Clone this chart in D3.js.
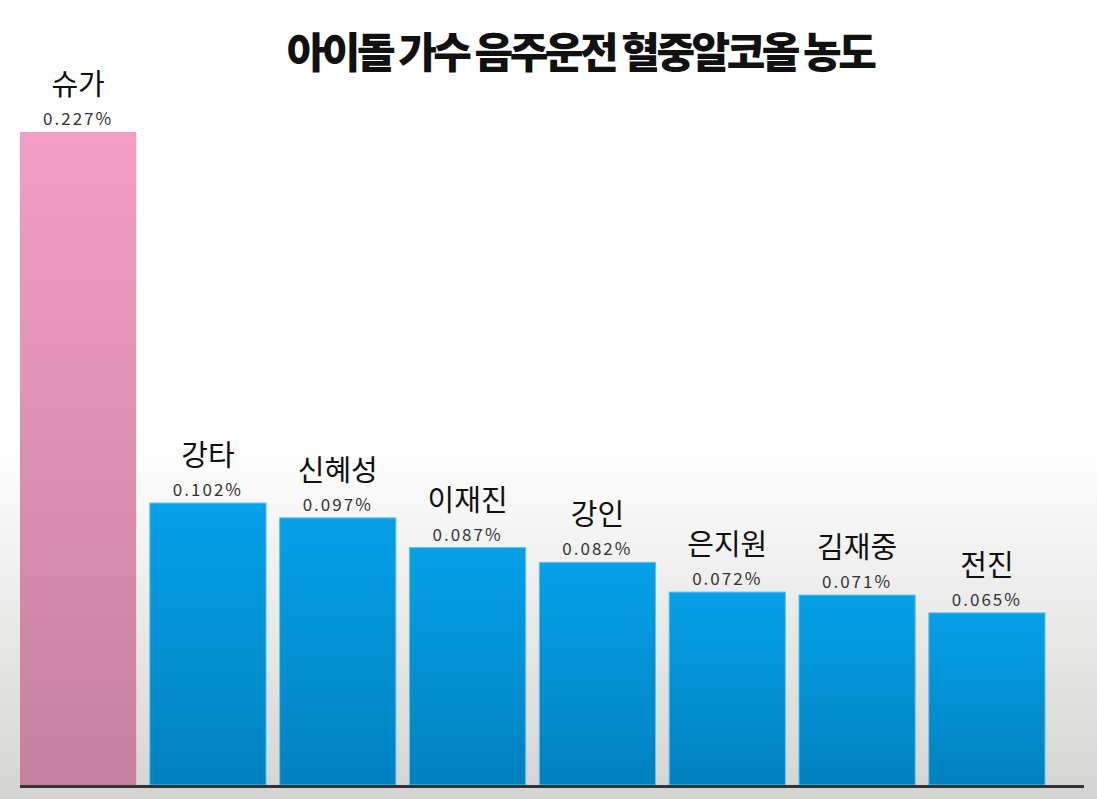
<!doctype html>
<html>
  <head>
    <meta charset="utf-8">
    <script src="https://cdnjs.cloudflare.com/ajax/libs/d3/7.8.5/d3.min.js"></script>
    <style>
      body { margin: 0; }
      svg { display: block; }
    </style>
  </head>
  <body>
    <div id="viz">
      <svg style="width:1097px;height:799px;"></svg>
    </div>
    <script>
      var title = "아이돌 가수 음주운전 혈중알코올 농도";
      var names = ["슈가", "강타", "신혜성", "이재진", "강인", "은지원", "김재중", "전진"];
      var values = [0.227, 0.102, 0.097, 0.087, 0.082, 0.072, 0.071, 0.065];
      var highlight = ["슈가"];

      var W = 1097, H = 799;
      var svg = d3.select("svg").attr("width", W).attr("height", H);
      var defs = svg.append("defs");

      // background: white fading to grey near the bottom
      var bg = defs.append("linearGradient").attr("id", "bg")
        .attr("x1", 0).attr("y1", 0).attr("x2", 0).attr("y2", 1);
      bg.append("stop").attr("offset", "0.55").attr("stop-color", "#ffffff");
      bg.append("stop").attr("offset", "1").attr("stop-color", "#d4d4d2");

      var pink = defs.append("linearGradient").attr("id", "pink")
        .attr("x1", 0).attr("y1", 0).attr("x2", 0).attr("y2", 1);
      pink.append("stop").attr("offset", "0").attr("stop-color", "#f39dc6");
      pink.append("stop").attr("offset", "1").attr("stop-color", "#c5819f");

      var blue = defs.append("linearGradient").attr("id", "blue")
        .attr("x1", 0).attr("y1", 0).attr("x2", 0).attr("y2", 1);
      blue.append("stop").attr("offset", "0").attr("stop-color", "#05a1e8");
      blue.append("stop").attr("offset", "1").attr("stop-color", "#0081c0");

      svg.append("rect").attr("width", W).attr("height", H).attr("fill", "url(#bg)");

      var x = d3.scaleBand()
        .domain(names)
        .range([20, 1045])
        .paddingInner(0.105);

      var y = d3.scaleLinear()
        .domain([0.007, 0.227])
        .range([785, 132]);

      var data = names.map((n, i) => ({name: n, value: values[i]}));

      svg.append("text")
        .attr("x", 580)
        .attr("y", 68)
        .attr("text-anchor", "middle")
        .style("font-family", "'Noto Sans CJK KR'")
        .style("font-weight", 900)
        .style("font-size", "42px")
        .style("letter-spacing", "-3.5px")
        .attr("fill", "#111")
        .text(title);

      svg.selectAll("rect.bar")
        .data(data)
        .enter()
        .append("rect")
          .attr("class", "bar")
          .attr("x", d => x(d.name))
          .attr("y", d => y(d.value))
          .attr("width", x.bandwidth())
          .attr("height", d => 785 - y(d.value))
          .attr("fill", d => highlight.includes(d.name) ? "url(#pink)" : "url(#blue)")
          .attr("stroke", d => highlight.includes(d.name) ? "none" : "#5cc4f0")
          .attr("stroke-width", 1);

      // baseline
      svg.append("line")
        .attr("x1", 20).attr("x2", 1084)
        .attr("y1", 786.5).attr("y2", 786.5)
        .attr("stroke", "#333")
        .attr("stroke-width", 3);

      svg.selectAll("text.name")
        .data(data)
        .enter()
        .append("text")
          .attr("class", "name")
          .attr("x", d => x(d.name) + x.bandwidth() / 2)
          .attr("y", d => y(d.value) - 37)
          .attr("text-anchor", "middle")
          .style("font-family", "'Noto Sans CJK KR'")
          .style("font-size", "29px")
          .attr("fill", "#111")
          .text(d => d.name);

      svg.selectAll("text.val")
        .data(data)
        .enter()
        .append("text")
          .attr("class", "val")
          .attr("x", d => x(d.name) + x.bandwidth() / 2)
          .attr("y", d => y(d.value) - 7)
          .attr("text-anchor", "middle")
          .style("font-family", "'Noto Sans CJK KR'")
          .style("font-size", "17px")
          .style("letter-spacing", "2px")
          .attr("fill", "#333")
          .text(d => d3.format(".3f")(d.value) + "%");
    </script>
  </body>
</html>
